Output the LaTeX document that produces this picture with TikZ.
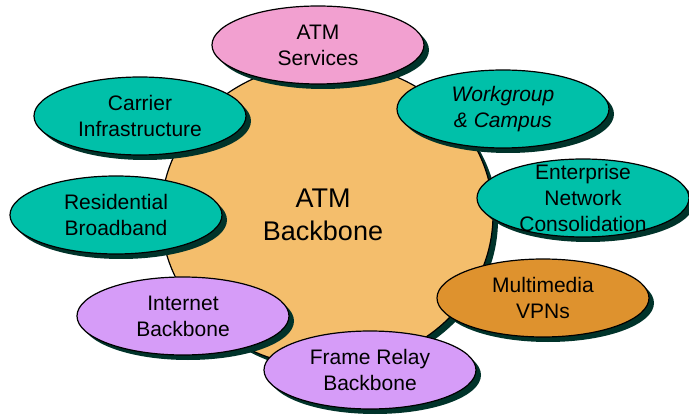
\documentclass[tikz,border=0pt]{standalone}
\usepackage{fontspec}
\setmainfont{Liberation Sans}
\usetikzlibrary{shapes.geometric,shadows}
\definecolor{bbfill}{HTML}{F4BE6C}
\definecolor{svcpink}{HTML}{F2A0D0}
\definecolor{svcteal}{HTML}{00C0A9}
\definecolor{svclav}{HTML}{D69CF8}
\definecolor{svcorange}{HTML}{DE922E}
\definecolor{shade}{HTML}{00332A}
\newcommand{\shoff}{5pt}
\newcommand{\bubw}{212pt}
\newcommand{\bubh}{78pt}

\begin{document}
\begin{tikzpicture}[x=1pt,y=-1pt]
    \tikzset{
        bubble/.style={ellipse, draw=black, line width=1.2pt, fill=#1,
            minimum width=\bubw, minimum height=\bubh, inner sep=0pt,
            drop shadow={shadow xshift=\shoff, shadow yshift=-\shoff, fill=shade, opacity=1}},
        bubbletext/.style={align=center, font=\fontsize{21}{26}\selectfont}
    }
    %\draw[help lines, step=20] (0,0) grid (689,417);
    \useasboundingbox[fill=white] (0,0) rectangle (689,417);
    \node[bubble=bbfill, minimum width=332pt, minimum height=304pt] (backbone) at (327,215) {};
    \node[bubbletext, font=\fontsize{27}{33}\selectfont] (backbonetxt) at (323,215) {ATM\\Backbone};
    \foreach \nm/\px/\py/\col/\txt in {
            services/318/45/svcpink/{ATM\\Services},
            carrier/140/116/svcteal/{Carrier\\Infrastructure},
            residential/116/215/svcteal/{Residential\\Broadband},
            workgroup/503/109/svcteal/{\itshape Workgroup\\\itshape \& Campus},
            enterprise/583/198/svcteal/{Enterprise\\Network\\Consolidation},
            multimedia/543/298/svcorange/{Multimedia\\VPNs},
            internet/183/316/svclav/{Internet\\Backbone},
            framerelay/370/370/svclav/{Frame Relay\\Backbone}} {
        \node[bubble=\col] (\nm) at (\px,\py) {};
        \node[bubbletext] (\nm txt) at (\nm) {\txt};
    }
\end{tikzpicture}
\end{document}
